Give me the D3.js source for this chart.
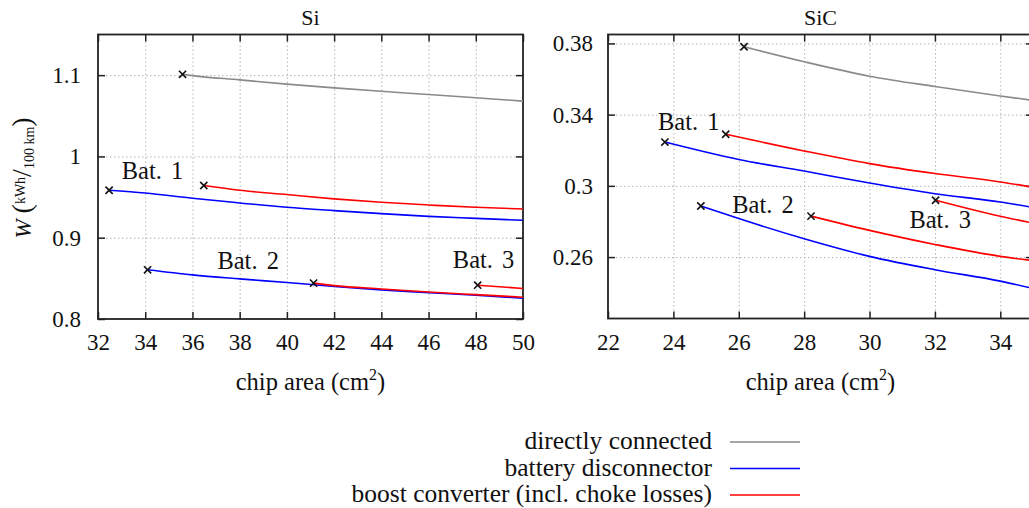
<!DOCTYPE html>
<html>
<head>
<meta charset="utf-8">
<script src="https://cdn.jsdelivr.net/npm/d3@7"></script>
<style>
  body { margin: 0; background: #fff; }
  svg { display: block; }
  text { fill: #111; }
</style>
</head>
<body>
<svg id="chart" width="1029" height="508"></svg>
<script>
// ---- data (chip area in cm^2, W in kWh/100km) ----
const siXTicks = [32, 34, 36, 38, 40, 42, 44, 46, 48, 50];
const siYTicks = [0.8, 0.9, 1.0, 1.1];
const sicXTicks = [22, 24, 26, 28, 30, 32, 34];
const sicYTicks = [0.26, 0.30, 0.34, 0.38];

const siDirect = [[35.58, 1.101], [36, 1.0994], [38, 1.0942], [40, 1.089], [42, 1.0843], [44, 1.0801], [46, 1.0762], [48, 1.0722], [50, 1.068]];
const siBat1Disc = [[32.47, 0.9584], [34, 0.955], [36, 0.9485], [38, 0.9428], [40, 0.9374], [42, 0.9333], [44, 0.9296], [46, 0.9263], [48, 0.9238], [50, 0.9214]];
const siBat1Boost = [[36.48, 0.9642], [38, 0.9584], [40, 0.9531], [42, 0.9478], [44, 0.9436], [46, 0.9403], [48, 0.9374], [50, 0.9354]];
const siBat2Disc = [[34.1, 0.8605], [36, 0.8543], [38, 0.8494], [40, 0.8449], [42, 0.840], [44, 0.8358], [46, 0.8325], [48, 0.8293], [50, 0.8256]];
const siBat2Boost = [[41.13, 0.8441], [42, 0.8411], [44, 0.837], [46, 0.8333], [48, 0.830], [50, 0.8268]];
const siBat3Boost = [[48.08, 0.8416], [50, 0.8375]];

const sicDirect = [[26.16, 0.3781], [28, 0.3697], [30, 0.3616], [32, 0.3558], [34, 0.3505], [35, 0.348]];
const sicBat1Disc = [[23.74, 0.3246], [26, 0.3148], [28, 0.3083], [30, 0.3016], [32, 0.2956], [34, 0.2909], [35, 0.2879]];
const sicBat1Boost = [[25.6, 0.329], [28, 0.3196], [30, 0.3125], [32, 0.3069], [34, 0.3022], [35, 0.2992]];
const sicBat2Disc = [[24.84, 0.2887], [26, 0.2816], [28, 0.2703], [30, 0.2604], [32, 0.2529], [34, 0.2465], [35, 0.2424]];
const sicBat2Boost = [[28.21, 0.283], [30, 0.275], [32, 0.2671], [34, 0.2604], [35, 0.258]];
const sicBat3Boost = [[32.02, 0.2919], [34, 0.2829], [35, 0.2791]];

// battery labels: [text, x, y] in data units (centre, baseline)
const siLabels = [["Bat. 1", 34.31, 0.972], ["Bat. 2", 38.36, 0.862], ["Bat. 3", 48.33, 0.8627]];
const sicLabels = [["Bat. 1", 24.47, 0.3312], ["Bat. 2", 26.74, 0.2849], ["Bat. 3", 32.16, 0.2763]];

const legendNames = ["directly connected", "battery disconnector", "boost converter (incl. choke losses)"];
const colors = {direct: "#8a8a8a", disc: "#0000ff", boost: "#ff0000"};

const FONT = "'Liberation Serif', 'DejaVu Serif', 'Times New Roman', serif";

const svg = d3.select("#chart");
svg.append("rect").attr("width", 1029).attr("height", 508).attr("fill", "#fff");

function drawPanel(opt) {
  const x = d3.scaleLinear().domain(opt.xDomain).range([opt.left, opt.right]);
  const y = d3.scaleLinear().domain(opt.yDomain).range([opt.bottom, opt.top]);
  const g = svg.append("g");
  const h = opt.bottom - opt.top, w = opt.right - opt.left;

  // dotted grid
  const gx = g.append("g")
    .attr("transform", "translate(0," + opt.bottom + ")")
    .call(d3.axisBottom(x).tickValues(opt.xTicks.filter(d => d > opt.xDomain[0] && d < opt.xDomain[1])).tickSize(-h).tickFormat(""));
  const gy = g.append("g")
    .attr("transform", "translate(" + opt.left + ",0)")
    .call(d3.axisLeft(y).tickValues(opt.yTicks.filter(d => d > opt.yDomain[0])).tickSize(-w).tickFormat(""));
  [gx, gy].forEach(a => {
    a.select(".domain").remove();
    a.selectAll("line").attr("stroke", "#b4b4b4").attr("stroke-width", 1).attr("stroke-dasharray", "1.5,2.5");
  });

  // axes with inward ticks, mirrored on top/right
  const fmt = d => String(+d.toFixed(2));
  const axes = [
    g.append("g").attr("transform", "translate(0," + opt.bottom + ")")
      .call(d3.axisBottom(x).tickValues(opt.xTicks).tickSize(-7).tickPadding(15).tickFormat(fmt)),
    g.append("g").attr("transform", "translate(0," + opt.top + ")")
      .call(d3.axisTop(x).tickValues(opt.xTicks).tickSize(-7).tickFormat("")),
    g.append("g").attr("transform", "translate(" + opt.left + ",0)")
      .call(d3.axisLeft(y).tickValues(opt.yTicks).tickSize(-7).tickPadding(opt.yPad).tickFormat(fmt)),
    g.append("g").attr("transform", "translate(" + opt.right + ",0)")
      .call(d3.axisRight(y).tickValues(opt.yTicks).tickSize(-7).tickFormat(""))
  ];
  axes.forEach(a => {
    a.select(".domain").remove();
    a.attr("font-family", FONT).attr("font-size", 23);
    a.selectAll("line").attr("stroke", "#222").attr("stroke-width", 1.5);
    a.selectAll("text").attr("fill", "#111");
  });

  g.append("rect")
    .attr("x", opt.left).attr("y", opt.top).attr("width", w).attr("height", h)
    .attr("fill", "none").attr("stroke", "#222").attr("stroke-width", 1.8);

  // curves
  const line = d3.line().x(d => x(d[0])).y(d => y(d[1])).curve(d3.curveMonotoneX);
  opt.series.forEach(s => {
    g.append("path").attr("fill", "none").attr("stroke-width", 1.6)
      .attr("stroke", s.color).attr("d", line(s.data));
  });
  // start markers
  opt.series.forEach(s => {
    const p = s.data[0], cx = x(p[0]), cy = y(p[1]), r = 3.6;
    g.append("path").attr("stroke", "#111").attr("stroke-width", 1.6)
      .attr("d", `M${cx - r},${cy - r}L${cx + r},${cy + r}M${cx - r},${cy + r}L${cx + r},${cy - r}`);
  });

  // labels
  opt.labels.forEach(l => {
    g.append("text").attr("x", x(l[1])).attr("y", y(l[2]))
      .attr("text-anchor", "middle").attr("font-family", FONT).attr("font-size", 24.5).attr("word-spacing", 3)
      .text(l[0]);
  });

  // title
  g.append("text").attr("x", (opt.left + opt.right) / 2).attr("y", 25)
    .attr("text-anchor", "middle").attr("font-family", FONT).attr("font-size", 22).text(opt.title);

  // x label
  const xl = g.append("text").attr("x", (opt.left + opt.right) / 2).attr("y", 390)
    .attr("text-anchor", "middle").attr("font-family", FONT).attr("font-size", 24.5);
  xl.append("tspan").text("chip area (cm");
  xl.append("tspan").attr("font-size", 16).attr("dy", -10).text("2");
  xl.append("tspan").attr("dy", 10).text(")");
}

drawPanel({
  title: "Si", left: 98, right: 523, top: 34.5, bottom: 319,
  xDomain: [32, 50], yDomain: [0.8, 1.15], xTicks: siXTicks, yTicks: siYTicks, yPad: 17,
  series: [
    {data: siDirect, color: colors.direct},
    {data: siBat1Disc, color: colors.disc},
    {data: siBat2Disc, color: colors.disc},
    {data: siBat1Boost, color: colors.boost},
    {data: siBat2Boost, color: colors.boost},
    {data: siBat3Boost, color: colors.boost}
  ],
  labels: siLabels
});

drawPanel({
  title: "SiC", left: 608, right: 1033, top: 34.5, bottom: 318.5,
  xDomain: [22, 35], yDomain: [0.2255, 0.385], xTicks: sicXTicks, yTicks: sicYTicks, yPad: 15,
  series: [
    {data: sicDirect, color: colors.direct},
    {data: sicBat1Disc, color: colors.disc},
    {data: sicBat2Disc, color: colors.disc},
    {data: sicBat1Boost, color: colors.boost},
    {data: sicBat2Boost, color: colors.boost},
    {data: sicBat3Boost, color: colors.boost}
  ],
  labels: sicLabels
});

// y axis label, rotated
const yl = svg.append("text").attr("transform", "translate(31,178) rotate(-90)")
  .attr("text-anchor", "middle").attr("font-family", FONT).attr("font-size", 23);
yl.append("tspan").attr("font-style", "italic").text("W");
yl.append("tspan").attr("dx", 6).attr("font-size", 28).text("(");
yl.append("tspan").attr("font-size", 14).attr("dy", -6).text("kWh");
yl.append("tspan").attr("font-size", 28).attr("dy", 6).text("/");
yl.append("tspan").attr("font-size", 14).attr("dy", 3).text("100 km");
yl.append("tspan").attr("font-size", 28).attr("dy", -3).text(")");

// legend
const legendColors = [colors.direct, colors.disc, colors.boost];
const ly = d3.scalePoint().domain(legendNames).range([442, 495]);
const lg = svg.append("g");
legendNames.forEach((n, i) => {
  lg.append("text").attr("x", 712).attr("y", ly(n) + 7)
    .attr("text-anchor", "end").attr("font-family", FONT).attr("font-size", 25.5).text(n);
  lg.append("line").attr("x1", 730).attr("x2", 800).attr("y1", ly(n)).attr("y2", ly(n))
    .attr("stroke", legendColors[i]).attr("stroke-width", 1.6);
});
</script>
</body>
</html>
